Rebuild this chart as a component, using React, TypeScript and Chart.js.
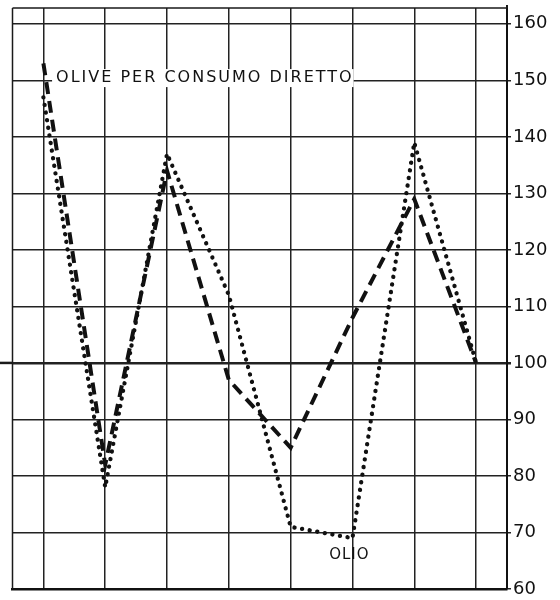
import React, { useEffect, useRef } from "react";
import { Chart, registerables } from "chart.js";

Chart.register(...registerables);

const categories = ["1", "2", "3", "4", "5", "6", "7", "8"];
const oliveValues = [153, 82, 134, 97, 85, 108, 129, 100];
const olioValues = [147, 78, 137, 112, 71, 69, 139, 100];
const yTickValues = [60, 70, 80, 90, 100, 110, 120, 130, 140, 150, 160];
const oliveLabel = "OLIVE PER CONSUMO DIRETTO";
const olioLabel = "OLIO";

const FONT = '"DejaVu Sans", sans-serif';

const decor = {
  id: "decor",
  beforeDatasetsDraw(chart: any) {
    const { ctx, chartArea: a, scales } = chart;
    const x = scales.x;
    const y = scales.y;
    ctx.save();
    ctx.strokeStyle = "#1a1a1a";
    ctx.lineWidth = 1.5;
    ctx.beginPath();
    ctx.moveTo(a.left, a.top);
    ctx.lineTo(a.right, a.top);
    ctx.moveTo(a.left, a.top);
    ctx.lineTo(a.left, a.bottom);
    ctx.stroke();
    ctx.lineWidth = 2;
    ctx.beginPath();
    ctx.moveTo(a.right, a.top - 3);
    ctx.lineTo(a.right, a.top);
    ctx.stroke();
    const y100 = y.getPixelForValue(100);
    ctx.lineWidth = 2.5;
    ctx.beginPath();
    ctx.moveTo(0, y100);
    ctx.lineTo(a.left, y100);
    ctx.stroke();

    ctx.font = "16px " + FONT;
    (ctx as any).letterSpacing = "2px";
    ctx.textBaseline = "middle";
    ctx.textAlign = "left";
    const tx = x.getPixelForValue(0.205);
    const ty = y.getPixelForValue(150.4);
    const w = ctx.measureText(oliveLabel).width;
    ctx.fillStyle = "#fff";
    ctx.fillRect(tx - 4, ty - 9, w + 4, 18);
    ctx.fillStyle = "#111";
    ctx.fillText(oliveLabel, tx, ty);

    ctx.font = "15px " + FONT;
    (ctx as any).letterSpacing = "1px";
    ctx.textAlign = "center";
    const ox = x.getPixelForValue(4.95);
    const oy = y.getPixelForValue(66);
    ctx.fillText(olioLabel, ox, oy);
    ctx.restore();
  },
};

export default function App() {
  const ref = useRef<HTMLCanvasElement>(null);
  useEffect(() => {
    if (!ref.current) return;
    const chart = new Chart(ref.current, {
      type: "line",
      data: {
        labels: categories,
        datasets: [
          {
            label: oliveLabel,
            data: oliveValues,
            borderColor: "#111",
            borderWidth: 4,
            borderDash: [12, 7],
            borderCapStyle: "butt",
            pointRadius: 0,
            tension: 0,
            fill: false,
          },
          {
            label: olioLabel,
            data: olioValues,
            borderColor: "#111",
            borderWidth: 4.3,
            borderDash: [0.1, 7.6],
            borderCapStyle: "round",
            pointRadius: 0,
            tension: 0,
            fill: false,
          },
        ],
      },
      options: {
        animation: false,
        responsive: false,
        layout: { padding: { top: 8, bottom: 11, left: 12.5, right: 0 } },
        plugins: {
          legend: { display: false },
          tooltip: { enabled: false },
          title: { display: false },
        },
        scales: {
          x: {
            type: "category",
            offset: true,
            afterFit: (s: any) => {
              s.height = 0;
            },
            grid: {
              offset: false,
              drawTicks: false,
              color: "#222",
              lineWidth: 1.5,
            },
            border: { display: true, color: "#111", width: 2.5 },
            ticks: { display: false },
          },
          y: {
            position: "right",
            min: 60,
            max: 162.8,
            afterBuildTicks: (s: any) => {
              s.ticks = yTickValues.map((v) => ({ value: v }));
            },
            afterFit: (s: any) => {
              s.width = 53;
              s.paddingTop = 0;
              s.paddingBottom = 0;
            },
            grid: {
              color: "#222",
              lineWidth: (c: any) => (c.tick && c.tick.value === 100 ? 2.5 : 1.5),
              drawTicks: true,
              tickLength: 4,
            },
            border: { display: true, color: "#111", width: 2 },
            ticks: {
              color: "#111",
              padding: 2,
              font: { family: FONT, size: 18 },
              callback: (v: any) => String(v),
            },
          },
        },
      },
      plugins: [decor],
    });
    return () => chart.destroy();
  }, []);
  return (
    <div style={{ position: "fixed", left: 0, top: 0, width: 560, height: 600, background: "#fff" }}>
      <canvas ref={ref} width={560} height={600} style={{ display: "block" }} />
    </div>
  );
}
